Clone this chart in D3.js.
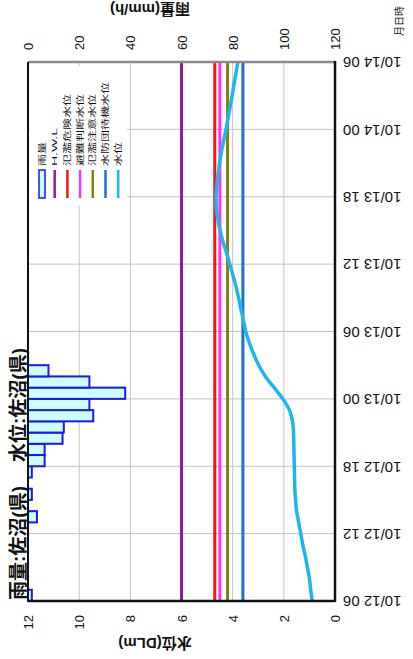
<!DOCTYPE html>
<html><head><meta charset="utf-8">
<script src="https://cdn.jsdelivr.net/npm/d3@7"></script>
<style>
body{margin:0;background:#fff;}
svg{display:block;font-family:"Liberation Sans","Noto Sans CJK JP",sans-serif;}
</style></head><body>
<svg id="c" width="413" height="659"></svg>
<script>
// ---- data (hour index 0 = 10/12 06:00) ----
const timeLabels = ["10/12 06","10/12 12","10/12 18","10/13 00","10/13 06","10/13 12","10/13 18","10/14 00","10/14 06"];
const timeTickHours = [0,6,12,18,24,30,36,42,48];
const waterLevel = [0.89,0.95,1.00,1.08,1.16,1.26,1.34,1.42,1.50,1.54,1.57,1.58,1.59,1.60,1.61,1.62,1.66,1.78,2.04,2.38,2.72,2.98,3.18,3.35,3.49,3.58,3.68,3.77,3.87,3.99,4.11,4.24,4.38,4.49,4.58,4.64,4.65,4.62,4.57,4.51,4.44,4.35,4.26,4.18,4.10,4.02,3.95,3.87,3.80];
const rainfall = [1.5,0,0,0,0,0,0,3.5,0,1.5,0,1.5,6.5,6.5,13.5,14,25.5,24,38,24,8,0,0,0,0,0,0,0,0,0,0,0,0,0,0,0,0,0,0,0,0,0,0,0,0,0,0,0];
const thresholdNames = ["H.W.L","氾濫危険水位","避難判断水位","氾濫注意水位","水防団待機水位"];
const thresholdValues = [6.0,4.7,4.5,4.2,3.6];
const thresholdColors = ["#8b1e9c","#ff1010","#ff30ff","#808010","#1f6fd0"];
const waterTicks = [0,2,4,6,8,10,12];
const rainTicks = [0,20,40,60,80,100,120];
const titleRain = "雨量:佐沼(県)";
const titleWater = "水位:佐沼(県)";

const svg = d3.select("#c");
const L=28,R=335,T=62,B=601;
const y = d3.scaleLinear().domain([0,48]).range([B,T]);
const xW = d3.scaleLinear().domain([0,12]).range([R,L]);
const xR = d3.scaleLinear().domain([0,120]).range([L,R]);
const gridCol = "#c4c4c4";

// grid
svg.append("g").selectAll("line").data(rainTicks.slice(1,-1)).join("line")
  .attr("x1",d=>xR(d)).attr("x2",d=>xR(d)).attr("y1",T).attr("y2",B)
  .attr("stroke",gridCol).attr("stroke-width",1);
svg.append("g").selectAll("line").data(timeTickHours.slice(1,-1)).join("line")
  .attr("x1",L).attr("x2",R).attr("y1",d=>y(d)).attr("y2",d=>y(d))
  .attr("stroke",gridCol).attr("stroke-width",1);

// legend background
svg.append("rect").attr("x",30).attr("y",66).attr("width",97).attr("height",140).attr("fill","#fff");

// rain bars
svg.append("g").selectAll("rect").data(rainfall.map((v,i)=>({v,i})).filter(d=>d.v>0)).join("rect")
  .attr("x",xR(0)).attr("y",d=>y(d.i+1)).attr("width",d=>xR(d.v)-xR(0)).attr("height",d=>y(d.i)-y(d.i+1))
  .attr("fill","#ccffff").attr("stroke","#1a1aee").attr("stroke-width",2);

// thresholds
svg.append("g").selectAll("line").data(thresholdValues).join("line")
  .attr("x1",d=>xW(d)).attr("x2",d=>xW(d)).attr("y1",T).attr("y2",B)
  .attr("stroke",(d,i)=>thresholdColors[i]).attr("stroke-width",3);

// water line
const wl = d3.line().x(d=>xW(d)).y((d,i)=>y(i)).curve(d3.curveMonotoneY);
svg.append("path").datum(waterLevel).attr("d",wl).attr("fill","none")
  .attr("stroke","#1cb6ee").attr("stroke-width",3.5);

// frame
svg.append("line").attr("x1",L).attr("x2",R).attr("y1",T).attr("y2",T).attr("stroke","#8a8a8a").attr("stroke-width",2.5);
svg.append("line").attr("x1",L).attr("x2",L).attr("y1",T).attr("y2",B).attr("stroke","#111").attr("stroke-width",2);
svg.append("line").attr("x1",L).attr("x2",R).attr("y1",B).attr("y2",B).attr("stroke","#111").attr("stroke-width",2.5);
svg.append("line").attr("x1",R).attr("x2",R).attr("y1",T-1).attr("y2",B+1).attr("stroke","#111").attr("stroke-width",2.5);

// axes
const gt = svg.append("g").attr("transform",`translate(${R},0)`)
  .call(d3.axisRight(y).tickValues(timeTickHours).tickFormat((d,i)=>timeLabels[i]).tickSize(0));
gt.select(".domain").remove();
gt.selectAll("text").attr("x",0).attr("y",0).attr("dy","0.35em").attr("transform","translate(8,0) rotate(180)")
  .attr("text-anchor","end").attr("font-size",15).attr("fill","#111").attr("font-family","'Liberation Sans',sans-serif");

const ga = svg.append("g").attr("transform",`translate(0,${T})`)
  .call(d3.axisTop(xR).tickValues(rainTicks).tickSize(0));
ga.select(".domain").remove();
ga.selectAll("text").attr("x",0).attr("y",0).attr("dy","0.35em").attr("transform","translate(0,-12) rotate(-90)")
  .attr("text-anchor","start").attr("font-size",13).attr("fill","#111");

const gb = svg.append("g").attr("transform",`translate(0,${B})`)
  .call(d3.axisBottom(xW).tickValues(waterTicks).tickSize(0));
gb.select(".domain").remove();
gb.selectAll("text").attr("x",0).attr("y",0).attr("dy","0.35em").attr("transform","translate(0,14) rotate(-90)")
  .attr("text-anchor","end").attr("font-size",13).attr("fill","#111");

// axis titles (upside down)
svg.append("text").attr("transform","translate(150,4) rotate(180)").attr("text-anchor","middle")
  .attr("font-size",15).attr("font-weight","bold").attr("fill","#111").text("雨量(mm/h)");
svg.append("text").attr("transform","translate(155,638) rotate(180)").attr("text-anchor","middle")
  .attr("font-size",15).attr("font-weight","bold").attr("fill","#111").text("水位(DLm)");
svg.append("text").attr("transform","translate(399,36) rotate(-90)").attr("dy","0.35em")
  .attr("font-size",10).attr("fill","#111").text("月日時");

// chart titles
svg.append("text").attr("transform","translate(25,600) rotate(-90)").attr("font-size",19).attr("font-weight","bold")
  .attr("fill","#111").text(titleRain);
svg.append("text").attr("transform","translate(25,462) rotate(-90)").attr("font-size",19).attr("font-weight","bold")
  .attr("fill","#111").text(titleWater);

// legend
const legendNames = ["雨量"].concat(thresholdNames, ["水位"]);
const legendColors = ["#1a1aee"].concat(thresholdColors, ["#1cb6ee"]);
const lx = d3.scaleLinear().domain([0,1]).range([42,54.7]);
const lg = svg.append("g");
legendNames.forEach((name,i)=>{
  const cx = lx(i);
  if(i===0){
    lg.append("rect").attr("x",cx-3).attr("y",170).attr("width",6).attr("height",28)
      .attr("fill","#ccffff").attr("stroke","#1a1aee").attr("stroke-width",1.5);
  } else {
    lg.append("line").attr("x1",cx).attr("x2",cx).attr("y1",170).attr("y2",198)
      .attr("stroke",legendColors[i]).attr("stroke-width",2.5);
  }
  const n = name.length;
  const len = name==="H.W.L" ? 38 : n*12;
  lg.append("text").attr("transform",`translate(${cx},166) rotate(-90)`).attr("dy","0.35em")
    .attr("font-size",7.5).attr("textLength",len).attr("lengthAdjust","spacingAndGlyphs")
    .attr("fill","#111").text(name);
});
</script>
</body></html>
